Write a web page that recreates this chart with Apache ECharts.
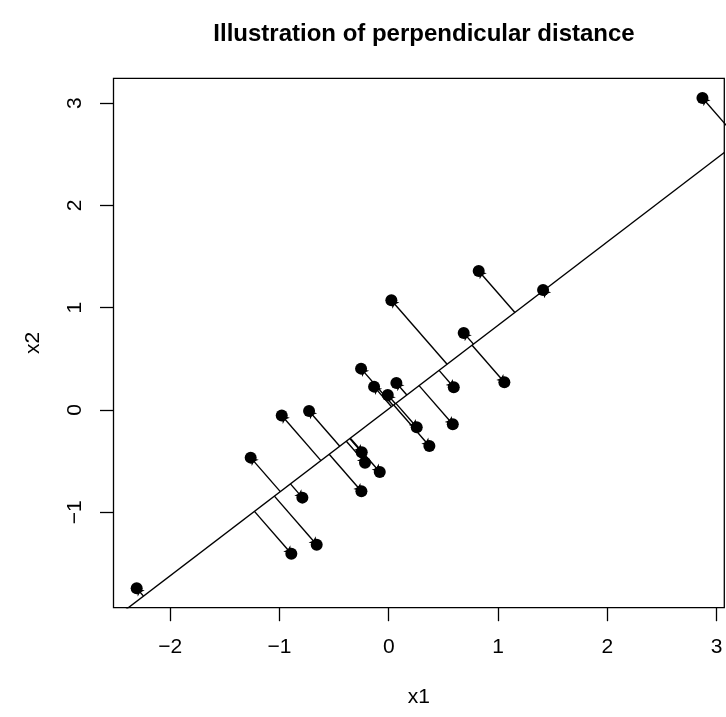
<!DOCTYPE html>
<html>
<head>
<meta charset="utf-8">
<script src="https://cdn.jsdelivr.net/npm/echarts@6/dist/echarts.min.js"></script>
<style>html,body{margin:0;padding:0;background:#fff}#chart{width:726px;height:717px}</style>
</head>
<body>
<div id="chart"></div>
<script>
// Data
const x1 = [-1.263, -0.790, -0.891, -2.306, 0.256, 0.586, 0.372, -0.247, -0.217, -0.082, -0.250, -0.659,
            0.024, -0.253, -0.134, 0.070, -0.009, -0.979, -0.729, 0.823, 1.412, 0.686, 1.058, 0.595, 2.870];
const x2 = [-0.466, -0.857, -1.405, -1.743, -0.169, -0.140, -0.352, -0.414, -0.515, -0.606, -0.795, -1.317,
            1.072, 0.404, 0.228, 0.264, 0.147, -0.055, -0.010, 1.359, 1.173, 0.753, 0.271, 0.222, 3.050];
const lineIntercept = 0.011;
const lineSlope = 0.816;
const xTicks = [-2, -1, 0, 1, 2, 3];
const yTicks = [-1, 0, 1, 2, 3];
const titleText = 'Illustration of perpendicular distance';
const xName = 'x1';
const yName = 'x2';

const xMin = -2.518, xMax = 3.070, yMin = -1.933, yMax = 3.242;

const pts = x1.map((v, i) => [v, x2[i]]);
const proj = pts.map(([x, y]) => {
  const t = (x + lineSlope * (y - lineIntercept)) / (1 + lineSlope * lineSlope);
  return [t, lineIntercept + lineSlope * t];
});
const arrowData = pts.map((p, i) => ({ coords: [proj[i], p] }));
const lineData = [[xMin, lineIntercept + lineSlope * xMin], [xMax, lineIntercept + lineSlope * xMax]];
const fmt = v => String(v).replace('-', '\u2212');
const font = '"Liberation Sans", Arial, Helvetica, sans-serif';

const chart = echarts.init(document.getElementById('chart'), null, { renderer: 'canvas' });
chart.setOption({
  animation: false,
  backgroundColor: '#fff',
  title: {
    text: titleText,
    left: 419,
    top: 17,
    textAlign: 'center',
    textStyle: { fontFamily: font, fontSize: 24, fontWeight: 'bold', color: '#000' }
  },
  grid: {
    left: 113.5, right: 1.7, top: 78.3, bottom: 109.3,
    show: true, borderColor: '#000', borderWidth: 1.3, backgroundColor: 'transparent'
  },
  xAxis: {
    type: 'value', min: xMin, max: xMax,
    name: xName, nameLocation: 'middle', nameGap: 79,
    nameTextStyle: { fontFamily: font, fontSize: 21, color: '#000' },
    axisLine: { show: false, onZero: false },
    splitLine: { show: false },
    axisTick: { show: true, length: 13.5, lineStyle: { color: '#000', width: 1.3 }, customValues: xTicks },
    axisLabel: { margin: 29, fontFamily: font, fontSize: 21, color: '#000', customValues: xTicks, formatter: fmt }
  },
  yAxis: {
    type: 'value', min: yMin, max: yMax,
    name: yName, nameLocation: 'middle', nameGap: 70,
    nameTextStyle: { fontFamily: font, fontSize: 21, color: '#000' },
    axisLine: { show: false, onZero: false },
    splitLine: { show: false },
    axisTick: { show: true, length: 13.5, lineStyle: { color: '#000', width: 1.3 }, customValues: yTicks },
    axisLabel: { margin: 28, rotate: 90, fontFamily: font, fontSize: 21, color: '#000', customValues: yTicks, formatter: fmt }
  },
  series: [
    {
      type: 'scatter', data: pts, symbol: 'circle', symbolSize: 12,
      itemStyle: { color: '#000', opacity: 1 }, z: 3
    },
    {
      type: 'line', data: lineData, showSymbol: false, symbol: 'none', clip: true,
      lineStyle: { color: '#000', width: 1.4 }, z: 2
    },
    {
      type: 'lines', coordinateSystem: 'cartesian2d', data: arrowData, clip: true,
      symbol: ['none', 'arrow'], symbolSize: 7,
      lineStyle: { color: '#000', width: 1.4, opacity: 1, curveness: 0 }, z: 2
    }
  ]
});
</script>
</body>
</html>
